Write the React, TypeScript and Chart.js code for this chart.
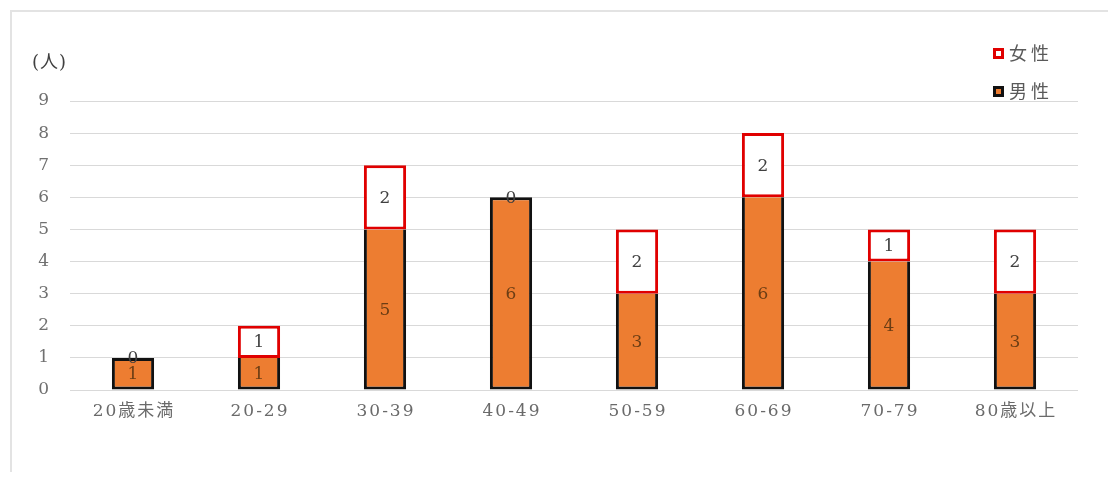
import React, { useEffect, useRef } from "react";
import { Chart, registerables } from "chart.js";

Chart.register(...registerables);

const categories = ["20歳未満", "20-29", "30-39", "40-49", "50-59", "60-69", "70-79", "80歳以上"];
const maleValues = [1, 1, 5, 6, 3, 6, 4, 3];
const femaleValues = [0, 1, 2, 0, 2, 2, 1, 2];
const yTicks = [0, 1, 2, 3, 4, 5, 6, 7, 8, 9];
const unitLabel = "(人)";
const legendItems = [
  { label: "女性", fill: "#ffffff", border: "#e00000" },
  { label: "男性", fill: "#ed7d31", border: "#111111" },
];

const serif = "'DejaVu Serif', 'Liberation Serif', 'Noto Sans CJK JP', serif";
const cjk = "'DejaVu Serif', 'Liberation Serif', 'Noto Sans CJK JP', sans-serif";

const overlayPlugin = {
  id: "overlay",
  afterDatasetsDraw(chart: any) {
    const ctx = chart.ctx;
    ctx.save();
    // value labels
    chart.data.datasets.forEach((ds: any, di: number) => {
      const meta = chart.getDatasetMeta(di);
      meta.data.forEach((bar: any, i: number) => {
        const v = ds.data[i];
        const cy = (bar.y + bar.base) / 2;
        ctx.font = "17px " + serif;
        ctx.textAlign = "center";
        ctx.textBaseline = "middle";
        ctx.fillStyle = di === 0 ? "#6b3d14" : "#404040";
        ctx.fillText(String(v), bar.x, cy + 1);
      });
    });
    // x labels
    const xs = chart.scales.x;
    ctx.font = "17px " + cjk;
    ctx.fillStyle = "#6a6a6a";
    ctx.textAlign = "center";
    ctx.textBaseline = "middle";
    (ctx as any).letterSpacing = "2px";
    categories.forEach((c, i) => {
      ctx.fillText(c, xs.getPixelForTick(i) + 1, 412);
    });
    // unit label
    (ctx as any).letterSpacing = "1px";
    ctx.font = "18px " + cjk;
    ctx.fillStyle = "#404040";
    ctx.textAlign = "left";
    ctx.fillText(unitLabel, 32, 63);
    // legend
    legendItems.forEach((it, k) => {
      const y = 53 + k * 38;
      ctx.fillStyle = it.border;
      ctx.fillRect(993, y - 5, 11, 11);
      ctx.fillStyle = it.fill;
      ctx.fillRect(996, y - 2, 5, 5);
      ctx.font = "18px " + cjk;
      (ctx as any).letterSpacing = "4px";
      ctx.fillStyle = "#595959";
      ctx.textAlign = "left";
      ctx.textBaseline = "middle";
      ctx.fillText(it.label, 1009, y + 2);
    });
    ctx.restore();
  },
};

export default function App() {
  const ref = useRef<HTMLCanvasElement | null>(null);
  useEffect(() => {
    if (!ref.current) return;
    const chart = new Chart(ref.current, {
      type: "bar",
      data: {
        labels: categories,
        datasets: [
          {
            label: "男性",
            data: maleValues,
            backgroundColor: "#ed7d31",
            borderColor: "#111111",
            borderWidth: 3,
            borderSkipped: (c: any) => (femaleValues[c.dataIndex] > 0 ? "top" : false),
            barPercentage: 0.335,
            categoryPercentage: 1,
          } as any,
          {
            label: "女性",
            data: femaleValues,
            backgroundColor: "#ffffff",
            borderColor: "#e00000",
            borderWidth: 3,
            borderSkipped: false,
            barPercentage: 0.335,
            categoryPercentage: 1,
          } as any,
        ],
      },
      plugins: [overlayPlugin],
      options: {
        responsive: false,
        animation: false,
        layout: { padding: { left: 20, right: 38, top: 101, bottom: 50 } },
        plugins: { legend: { display: false }, tooltip: { enabled: false } },
        scales: {
          x: {
            stacked: true,
            grid: { display: false },
            border: { display: false },
            ticks: { display: false },
            afterFit: (s: any) => { s.height = 40; },
          },
          y: {
            stacked: true,
            min: 0,
            max: 9,
            afterBuildTicks: (s: any) => { s.ticks = yTicks.map((v) => ({ value: v })); },
            grid: { color: "#d9d9d9", lineWidth: 1, drawTicks: false },
            border: { display: false },
            ticks: { color: "#707070", font: { family: serif, size: 17 }, padding: 21, stepSize: 1 },
            afterFit: (s: any) => { s.width = 50; },
          },
        },
      } as any,
    });
    return () => chart.destroy();
  }, []);
  return (
    <div style={{ position: "relative", width: 1116, height: 480, margin: -8, overflow: "hidden", background: "#fff" }}>
      <div style={{ position: "absolute", left: 10, top: 10, width: 1300, height: 700, borderTop: "2px solid #e3e3e3", borderLeft: "2px solid #e3e3e3" }} />
      <canvas ref={ref} width={1116} height={480} style={{ position: "absolute", left: 0, top: 0 }} />
    </div>
  );
}
